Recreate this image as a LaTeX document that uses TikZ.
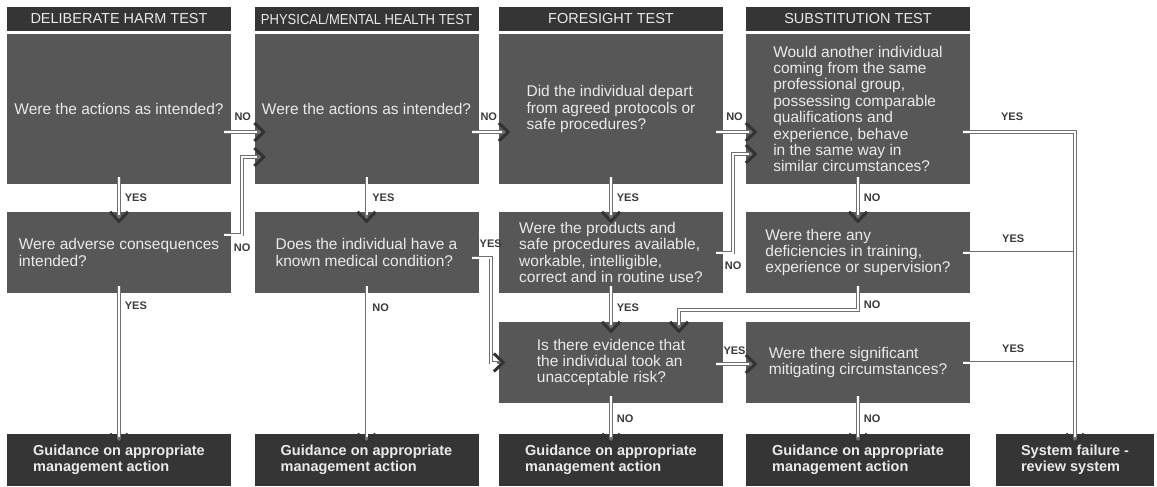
\documentclass[tikz,border=0pt]{standalone}
\usepackage{fontspec}
\usepackage{graphicx}
\setmainfont{Liberation Sans}
\usetikzlibrary{decorations.markings}
\definecolor{hdrdark}{HTML}{353535}
\definecolor{boxgray}{HTML}{575757}
\definecolor{txtlight}{HTML}{EAEAEA}
\definecolor{lbldark}{HTML}{3A3A3A}
\definecolor{linegray}{HTML}{707070}
\definecolor{tipdark}{HTML}{333333}

\begin{document}
\begin{tikzpicture}[x=1pt, y=-1pt,
    hdr/.style={fill=hdrdark, text=txtlight, minimum width=224pt, minimum height=24pt, inner sep=0pt, font=\fontsize{14.5}{16}\selectfont},
    qbox/.style={fill=boxgray, text=txtlight, minimum width=224pt, inner sep=0pt, align=left, font=\fontsize{15.5}{16.4}\selectfont},
    endbox/.style={fill=hdrdark, text=txtlight, minimum width=224pt, minimum height=52pt, inner sep=0pt, align=left, font=\bfseries\fontsize{14.5}{16.4}\selectfont},
    lbl/.style={text=lbldark, inner sep=0pt, font=\bfseries\fontsize{11}{12}\selectfont},
    link/.style={draw=linegray, line width=3.8pt, shorten <=-7pt, postaction={draw=white, line width=2pt}},
    conn/.style={draw=linegray, line width=3.8pt, shorten <=-7pt, shorten >=-7pt,
        postaction={draw=white, line width=2pt, shorten >=-3pt},
        postaction={decorate, decoration={markings, mark=at position 1 with
            {\draw[tipdark, line width=3pt, shorten <=0pt, shorten >=0pt] (0pt,9pt) -- (9.5pt,0pt) -- (0pt,-9pt);}}}}]
    \useasboundingbox (0,0) rectangle (1157,487);

    % column heads
    \node[hdr] (hdrharm) at (119,19) {DELIBERATE HARM TEST};
    \node[hdr] (hdrhealth) at (366.5,19) {\scalebox{0.9}[1]{PHYSICAL/MENTAL HEALTH TEST}};
    \node[hdr] (hdrfore) at (611,19) {FORESIGHT TEST};
    \node[hdr] (hdrsub) at (858,19) {SUBSTITUTION TEST};

    % questions
    \node[qbox, minimum height=150pt] (harmA) at (119,109) {Were the actions as intended?};
    \node[qbox, minimum height=150pt] (healthA) at (366.5,109) {Were the actions as intended?};
    \node[qbox, minimum height=150pt] (foreA) at (611,109) {Did the individual depart\\from agreed protocols or\\safe procedures?};
    \node[qbox, minimum height=150pt] (subA) at (858,109) {Would another individual\\coming from the same\\professional group,\\possessing comparable\\qualifications and\\experience, behave\\in the same way in\\similar circumstances?};
    \node[qbox, minimum height=81pt] (harmB) at (119,252.5) {Were adverse consequences\\intended?};
    \node[qbox, minimum height=81pt] (healthB) at (366.5,252.5) {Does the individual have a\\known medical condition?};
    \node[qbox, minimum height=81pt] (foreB) at (611,252.5) {Were the products and\\safe procedures available,\\workable, intelligible,\\correct and in routine use?};
    \node[qbox, minimum height=81pt] (subB) at (858,252.5) {Were there any\\deficiencies in training,\\experience or supervision?};
    \node[qbox, minimum height=81pt] (foreC) at (611,362.5) {Is there evidence that\\the individual took an\\unacceptable risk?};
    \node[qbox, minimum height=81pt] (subC) at (858,362.5) {Were there significant\\mitigating circumstances?};

    % outcomes
    \node[endbox] (outharm) at (119,460) {Guidance on appropriate\\management action};
    \node[endbox] (outhealth) at (366.5,460) {Guidance on appropriate\\management action};
    \node[endbox] (outfore) at (611,460) {Guidance on appropriate\\management action};
    \node[endbox] (outsub) at (858,460) {Guidance on appropriate\\management action};
    \node[endbox, minimum width=158pt] (outsys) at (1075,460) {System failure -\\review system};

    % connectors
    \draw[conn] ([yshift=-23pt]harmA.east) -- node[lbl, above=9pt] {NO} ([yshift=-23pt]healthA.west);
    \draw[conn] ([yshift=-23pt]healthA.east) -- node[lbl, above=9pt] {NO} ([yshift=-23pt]foreA.west);
    \draw[conn] ([yshift=-23pt]foreA.east) -- node[lbl, above=9pt] {NO} ([yshift=-23pt]subA.west);
    \draw[conn] (harmA.south) -- node[lbl, right=4pt] {YES} (harmB.north);
    \draw[conn] (healthA.south) -- node[lbl, right=4pt] {YES} (healthB.north);
    \draw[conn] (foreA.south) -- node[lbl, right=4pt] {YES} (foreB.north);
    \draw[conn] (subA.south) -- node[lbl, right=4pt] {NO} (subB.north);
    \draw[conn] ([yshift=18pt]harmB.east) -- node[lbl, below=7pt, pos=1] {NO} ++(11,0) |- ([yshift=-48pt]healthA.west);
    \draw[conn] ([yshift=-5pt]healthB.east) -- node[lbl, above=8pt, pos=1] {YES} ++(12,0) |- ([xshift=-5pt]foreC.west);
    \draw[conn] (foreB.east) -- node[lbl, below=7pt, pos=1] {NO} ++(10,0) |- ([yshift=-45pt]subA.west);
    \draw[conn] (foreB.south) -- node[lbl, right=4pt] {YES} (foreC.north);
    \draw[conn] (subB.south) -- node[lbl, right=4pt, pos=0.7] {NO} ++(0,17) -| ([xshift=68pt]foreC.north);
    \draw[conn] ([yshift=-1.5pt]foreC.east) -- node[lbl, above=7pt] {YES} ([yshift=-1.5pt]subC.west);
    \draw[conn] (harmB.south) -- node[lbl, right=4pt, pos=0.09] {YES} (outharm.north);
    \draw[conn] (healthB.south) -- node[lbl, right=4pt, pos=0.1] {NO} (outhealth.north);
    \draw[conn] (foreC.south) -- node[lbl, right=4pt] {NO} (outfore.north);
    \draw[conn] (subC.south) -- node[lbl, right=4pt] {NO} (outsub.north);
    \draw[link] (subB.east) -- node[lbl, above=8pt, pos=0.41] {YES} (subB.east -| outsys.north);
    \draw[link] (subC.east) -- node[lbl, above=8pt, pos=0.41] {YES} (subC.east -| outsys.north);
    \draw[conn] ([yshift=-23pt]subA.east) -| node[lbl, above=9pt, pos=0.2] {YES} (outsys.north);
\end{tikzpicture}
\end{document}
